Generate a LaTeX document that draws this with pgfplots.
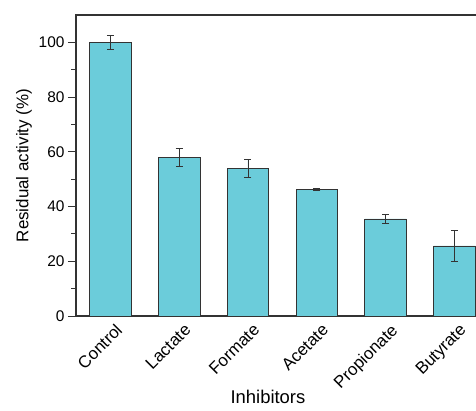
\documentclass[border=0pt]{standalone}
\usepackage{pgfplots}
\pgfplotsset{compat=1.18}
\usepackage{fontspec}
\setmainfont{Liberation Sans}
\definecolor{barfill}{HTML}{6BCCDA}
\definecolor{edge}{HTML}{333333}
\begin{document}
\begin{tikzpicture}
\begin{axis}[
  name=ax,
  at={(76bp,95bp)}, anchor=south west,
  scale only axis,
  width=412.8bp, height=301bp,
  xmin=-0.5, xmax=5.5,
  ymin=0, ymax=110,
  ybar, bar width=41.5bp,
  xtick={0,1,2,3,4,5},
  xticklabels={Control,Lactate,Formate,Acetate,Propionate,Butyrate},
  x tick label style={rotate=45, anchor=north east, font=\fontsize{17}{20}\selectfont, inner sep=1pt, xshift=5bp, yshift=-1bp},
  x tick style={draw=none},
  ytick={0,20,40,60,80,100},
  minor y tick num=1,
  ytick pos=left,
  tick align=outside,
  major tick length=8bp,
  minor tick length=4.5bp,
  y tick label style={font=\fontsize{15.5}{18}\selectfont},
  /pgf/number format/assume math mode=true,
  axis line style={draw=edge, line width=1.1pt},
  every tick/.style={draw=edge, line width=0.9pt},
  ylabel={Residual activity (\%)},
  ylabel style={font=\fontsize{17}{20}\selectfont},
  xlabel={Inhibitors},
  xlabel style={font=\fontsize{18.5}{22}\selectfont, at={(rel axis cs:0.465,0)}, anchor=north, yshift=-73bp, inner sep=1pt},
]
\addplot[
  fill=barfill, draw=edge, line width=0.7pt,
  error bars/.cd, y dir=both, y explicit,
  error bar style={draw=edge, line width=0.8pt},
  error mark options={draw=edge, line width=0.8pt, mark size=3.5bp, rotate=90},
] table[x=x, y=y, y error=e] {
x y e
0 100.0 2.7
1 58.0 3.2
2 54.0 3.2
3 46.3 0.4
4 35.5 1.7
5 25.6 5.8
};
\end{axis}
\pgfresetboundingbox
\path[use as bounding box] (0,0) rectangle (476bp,411bp);
\end{tikzpicture}
\end{document}
